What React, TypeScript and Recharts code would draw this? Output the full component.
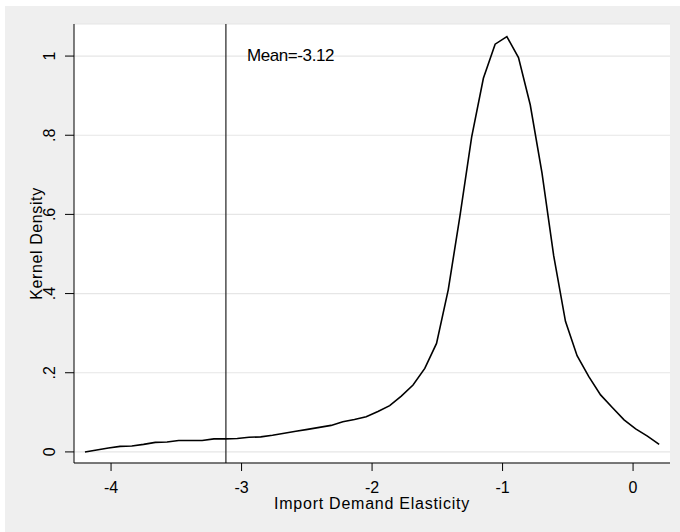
import React from 'react';
import { LineChart, Line, XAxis, YAxis, CartesianGrid, ReferenceLine } from 'recharts';

const elasticity = [-4.2, -4.11, -4.02, -3.931, -3.841, -3.751, -3.661, -3.571, -3.482, -3.392, -3.302, -3.212, -3.122, -3.033, -2.943, -2.853, -2.763, -2.673, -2.584, -2.494, -2.404, -2.314, -2.224, -2.135, -2.045, -1.955, -1.865, -1.776, -1.686, -1.596, -1.506, -1.416, -1.327, -1.237, -1.147, -1.057, -0.967, -0.878, -0.788, -0.698, -0.608, -0.518, -0.429, -0.339, -0.249, -0.159, -0.069, 0.02, 0.11, 0.2];
const density = [0, 0.005, 0.01, 0.014, 0.015, 0.019, 0.024, 0.025, 0.029, 0.029, 0.029, 0.033, 0.033, 0.034, 0.037, 0.038, 0.042, 0.047, 0.052, 0.057, 0.062, 0.067, 0.076, 0.082, 0.089, 0.102, 0.117, 0.141, 0.169, 0.211, 0.274, 0.41, 0.595, 0.795, 0.944, 1.03, 1.049, 0.996, 0.877, 0.705, 0.495, 0.33, 0.243, 0.19, 0.144, 0.112, 0.081, 0.058, 0.04, 0.019];

const xTicks = [-4, -3, -2, -1, 0];
const yTicks = [0, 0.2, 0.4, 0.6, 0.8, 1];
const meanValue = -3.12;
const meanLabel = 'Mean=-3.12';
const xTitle = 'Import Demand Elasticity';
const yTitle = 'Kernel Density';

const data = elasticity.map((x, i) => ({ x, d: density[i] }));

const FONT = "Arial, 'Liberation Sans', sans-serif";

const fmtY = (v: number) => {
  if (v === 0) return '0';
  if (v === 1) return '1';
  return v.toFixed(1).replace(/^0/, '');
};

const YTick = (props: any) => {
  const { x, y, payload } = props;
  const bx = x - 8;
  return (
    <text x={bx} y={y} transform={`rotate(-90 ${bx} ${y})`} textAnchor="middle" fill="#000" fontSize={16} fontFamily={FONT}>
      {fmtY(payload.value)}
    </text>
  );
};

export default function App() {
  return (
    <div style={{ position: 'fixed', left: 0, top: 0, width: 680, height: 532, background: '#fff' }}>
      <div style={{ position: 'absolute', left: 5, top: 6, width: 675, height: 526, background: '#efefef' }} />
      <div style={{ position: 'absolute', left: 0, top: 0 }}>
        <LineChart width={680} height={532} data={data} margin={{ top: 24, right: 10, left: 0, bottom: 0 }}>
          <CartesianGrid vertical={false} stroke="#e6e6e6" strokeWidth={1.2} fill="#ffffff" fillOpacity={1} />
          <XAxis
            dataKey="x"
            type="number"
            domain={[-4.284, 0.283]}
            ticks={xTicks}
            allowDataOverflow
            height={69}
            tickSize={8}
            tickMargin={11}
            stroke="#000"
            tick={{ fill: '#000', fontSize: 16, fontFamily: FONT }}
            tickLine={{ stroke: '#000' }}
            axisLine={{ stroke: '#000' }}
            label={{
              content: (p: any) => {
                const vb = p.viewBox;
                return (
                  <text x={vb.x + vb.width / 2} y={vb.y + 46} textAnchor="middle" fill="#000" fontSize={16} letterSpacing={0.75} fontFamily={FONT}>
                    {xTitle}
                  </text>
                );
              },
            }}
          />
          <YAxis
            type="number"
            domain={[-0.028, 1.081]}
            ticks={yTicks}
            allowDataOverflow
            width={74}
            tickSize={9}
            stroke="#000"
            tick={<YTick />}
            tickLine={{ stroke: '#000' }}
            axisLine={{ stroke: '#000' }}
            label={{
              content: (p: any) => {
                const vb = p.viewBox;
                const lx = vb.x + 42;
                const ly = vb.y + vb.height / 2;
                return (
                  <text x={lx} y={ly} transform={`rotate(-90 ${lx} ${ly})`} textAnchor="middle" fill="#000" fontSize={16} letterSpacing={0.6} fontFamily={FONT}>
                    {yTitle}
                  </text>
                );
              },
            }}
          />
          <ReferenceLine
            x={meanValue}
            stroke="#222"
            strokeWidth={1.2}
            label={{
              content: (p: any) => {
                const vb = p.viewBox;
                return (
                  <text x={vb.x + 21} y={vb.y + 37} fill="#000" fontSize={17} fontFamily={FONT} letterSpacing={-0.4}>
                    {meanLabel}
                  </text>
                );
              },
            }}
          />
          <Line type="linear" dataKey="d" stroke="#000" strokeWidth={1.6} dot={false} isAnimationActive={false} />
        </LineChart>
      </div>
    </div>
  );
}
